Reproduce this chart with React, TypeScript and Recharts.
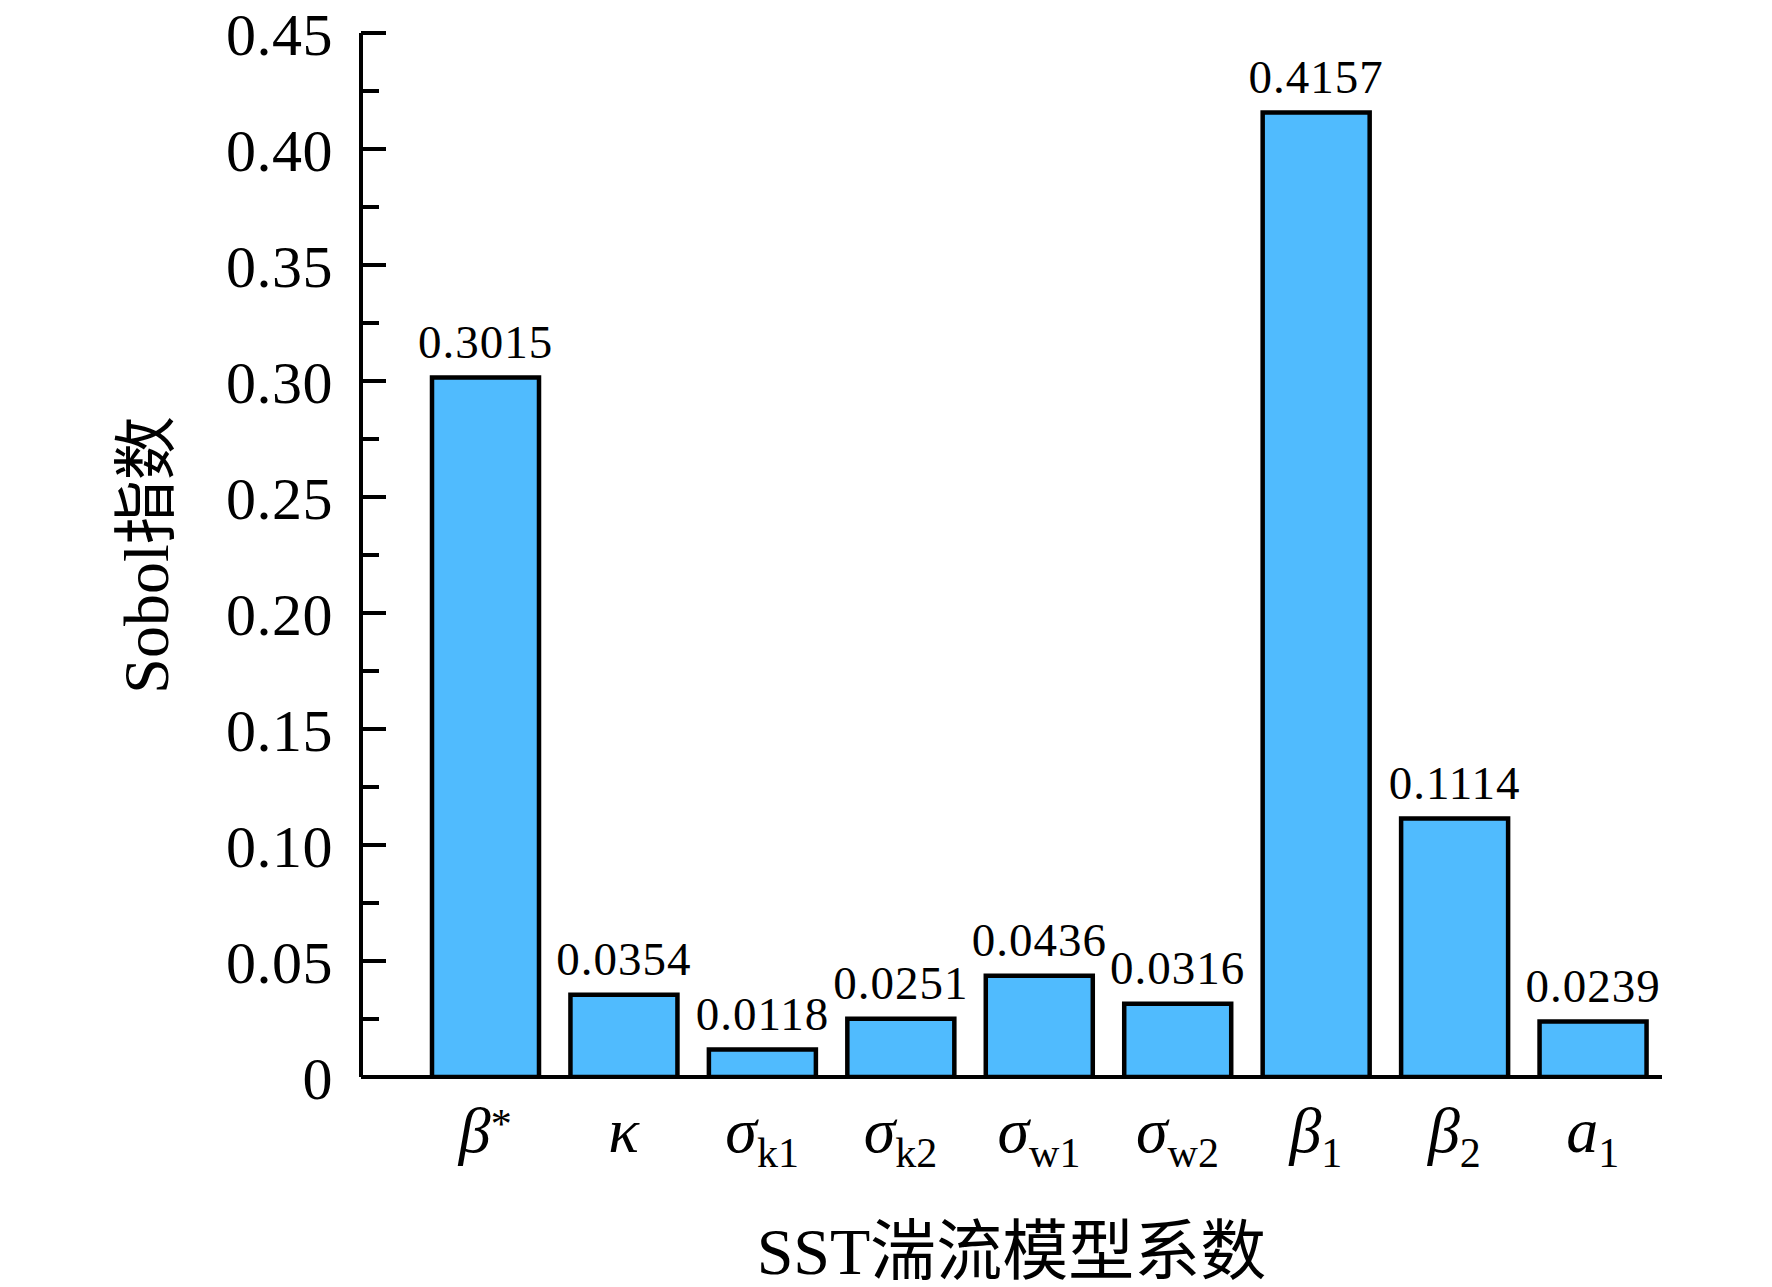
import React from 'react';
import { BarChart, Bar, XAxis, YAxis, LabelList, Label } from 'recharts';

const CATEGORIES = ['β*', 'κ', 'σk1', 'σk2', 'σw1', 'σw2', 'β1', 'β2', 'a1'];
const SYMBOLS = ['β', 'κ', 'σ', 'σ', 'σ', 'σ', 'β', 'β', 'a'];
const SUBSCRIPTS = ['', '', 'k1', 'k2', 'w1', 'w2', '1', '2', '1'];
const SUPERSCRIPTS = ['*', '', '', '', '', '', '', '', ''];
const SOBOL = [0.3015, 0.0354, 0.0118, 0.0251, 0.0436, 0.0316, 0.4157, 0.1114, 0.0239];
const VALUE_LABELS = ['0.3015', '0.0354', '0.0118', '0.0251', '0.0436', '0.0316', '0.4157', '0.1114', '0.0239'];
const Y_TICKS = [0, 0.025, 0.05, 0.075, 0.1, 0.125, 0.15, 0.175, 0.2, 0.225, 0.25, 0.275, 0.3, 0.325, 0.35, 0.375, 0.4, 0.425, 0.45];
const Y_TICK_LABELS = ['0', '', '0.05', '', '0.10', '', '0.15', '', '0.20', '', '0.25', '', '0.30', '', '0.35', '', '0.40', '', '0.45'];

const data = CATEGORIES.map((name, i) => ({ name, value: SOBOL[i], label: VALUE_LABELS[i] }));

const SERIF = "'Liberation Serif', 'Times New Roman', 'Noto Sans CJK SC', serif";

const YTick = (props: any) => {
  const { x, y, index } = props;
  const label = Y_TICK_LABELS[index] ?? '';
  const major = label !== '';
  return (
    <g>
      <line x1={x} x2={x + (major ? 25 : 18)} y1={y} y2={y} stroke="#000" strokeWidth={4} />
      {major && (
        <text x={x - 28} y={y + 22} textAnchor="end" fontFamily={SERIF} fontSize={60} letterSpacing={0.5} fill="#000">
          {label}
        </text>
      )}
    </g>
  );
};

const XTick = (props: any) => {
  const { x, y, payload } = props;
  const i = CATEGORIES.indexOf(payload.value);
  const sym = SYMBOLS[i];
  const sub = SUBSCRIPTS[i];
  const sup = SUPERSCRIPTS[i];
  return (
    <text x={x} y={y + 75} textAnchor="middle" fontFamily={SERIF} fill="#000">
      <tspan fontStyle="italic" fontSize={64}>{sym}</tspan>
      {sub && <tspan fontSize={42} dy={15}>{sub}</tspan>}
      {sup && <tspan fontSize={42} dy={-14}>{sup}</tspan>}
    </text>
  );
};

const BarValueLabel = (props: any) => {
  const { x, y, width, index } = props;
  return (
    <text
      x={x + width / 2}
      y={y - 20}
      textAnchor="middle"
      fontFamily={SERIF}
      fontSize={47}
      letterSpacing={1}
      fill="#000"
    >
      {VALUE_LABELS[index]}
    </text>
  );
};

const YLabelContent = (props: any) => {
  const vb = props.viewBox || {};
  const cx = vb.x + 168;
  const cy = vb.y + vb.height / 2;
  return (
    <text
      x={cx}
      y={cy}
      transform={`rotate(-90, ${cx}, ${cy})`}
      textAnchor="middle"
      fontFamily={SERIF}
      fontSize={64}
      fill="#000"
    >
      Sobol指数
    </text>
  );
};

const XLabelContent = (props: any) => {
  const vb = props.viewBox || {};
  const cx = vb.x + vb.width / 2;
  const cy = vb.y + 197;
  return (
    <text x={cx} y={cy} textAnchor="middle" fontFamily={SERIF} fontSize={66} fill="#000">
      SST湍流模型系数
    </text>
  );
};

export default function App() {
  return (
    <div style={{ position: 'absolute', left: 0, top: 0, width: 1772, height: 1287, background: '#fff' }}>
      <style>{`body{margin:0;overflow:hidden;background:#fff}`}</style>
      <BarChart
        width={1772}
        height={1287}
        data={data}
        margin={{ top: 33, right: 110, left: 0, bottom: 0 }}
      >
        <XAxis
          dataKey="name"
          type="category"
          interval={0}
          tick={<XTick />}
          tickLine={false}
          tickSize={0}
          tickMargin={0}
          axisLine={{ stroke: '#000', strokeWidth: 4 }}
          padding={{ left: 55, right: 0 }}
          height={210}
        >
          <Label content={<XLabelContent />} />
        </XAxis>
        <YAxis
          type="number"
          domain={[0, 0.45]}
          ticks={Y_TICKS}
          interval={0}
          tick={<YTick />}
          tickLine={false}
          tickSize={0}
          tickMargin={0}
          axisLine={{ stroke: '#000', strokeWidth: 4 }}
          width={361}
          allowDataOverflow
        >
          <Label content={<YLabelContent />} />
        </YAxis>
        <Bar
          dataKey="value"
          fill="#50BBFE"
          stroke="#000"
          strokeWidth={4.5}
          barSize={107}
          isAnimationActive={false}
        >
          <LabelList dataKey="label" content={<BarValueLabel />} />
        </Bar>
      </BarChart>
    </div>
  );
}
